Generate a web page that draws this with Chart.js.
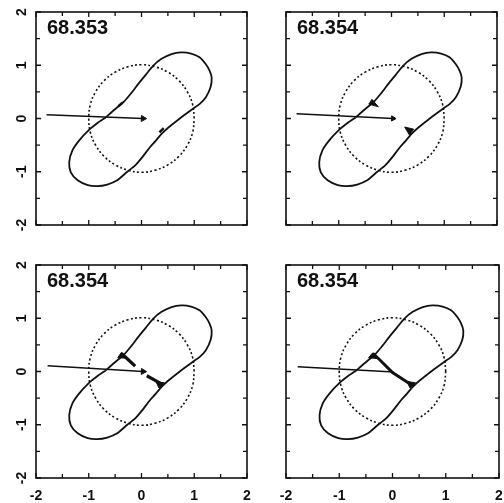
<!DOCTYPE html>
<html>
<head>
<meta charset="utf-8">
<script src="https://cdn.jsdelivr.net/npm/chart.js@4"></script>
<style>
  html, body { margin: 0; padding: 0; background: #fff; }
  #page { position: relative; width: 504px; height: 503px; overflow: hidden; background: #fff; }
  .panel { position: absolute; width: 252px; height: 251px; }
</style>
</head>
<body>
<div id="page">
  <div class="panel" style="left:0;top:0"><canvas id="p0" width="252" height="251"></canvas></div>
  <div class="panel" style="left:250px;top:0"><canvas id="p1" width="252" height="251"></canvas></div>
  <div class="panel" style="left:0;top:252px"><canvas id="p2" width="252" height="251"></canvas></div>
  <div class="panel" style="left:250px;top:252px"><canvas id="p3" width="252" height="251"></canvas></div>
</div>
<script>
const ink = "#111"
const font = "'Liberation Sans', Arial, Helvetica, sans-serif"

// panel captions
const panelLabels = ["68.353", "68.354", "68.354", "68.354"]

// axis ticks
const majorTicks = [-2, -1, 0, 1, 2]
const minorTicks = [-1.5, -0.5, 0.5, 1.5]

// dotted reference circle
const circle = [
  [1.00, 0.00], [0.97, 0.26], [0.87, 0.50], [0.71, 0.71], [0.50, 0.87], [0.26, 0.97],
  [0.00, 1.01], [-0.26, 0.97], [-0.50, 0.87], [-0.71, 0.71], [-0.87, 0.50], [-0.97, 0.26],
  [-1.00, 0.00], [-0.97, -0.26], [-0.87, -0.50], [-0.71, -0.71], [-0.50, -0.87], [-0.26, -0.97],
  [0.00, -1.01], [0.26, -0.97], [0.50, -0.87], [0.71, -0.71], [0.87, -0.50], [0.97, -0.26],
  [1.00, 0.00],
]

// closed boundary curve
const outline = [
  [-0.68, 0.02], [-0.52, 0.16], [-0.34, 0.31], [-0.20, 0.47], [-0.06, 0.65], [0.08, 0.82],
  [0.22, 0.99], [0.38, 1.12], [0.57, 1.21], [0.75, 1.24], [0.94, 1.22], [1.10, 1.15],
  [1.22, 1.02], [1.29, 0.90], [1.33, 0.77], [1.31, 0.59], [1.22, 0.40], [1.10, 0.27],
  [0.97, 0.18], [0.75, 0.02], [0.51, -0.17], [0.38, -0.29], [0.26, -0.43], [0.16, -0.54],
  [0.02, -0.72], [-0.12, -0.88], [-0.27, -1.00], [-0.46, -1.16], [-0.65, -1.24], [-0.84, -1.27],
  [-1.02, -1.25], [-1.21, -1.16], [-1.34, -1.01], [-1.37, -0.82], [-1.31, -0.60], [-1.18, -0.41],
  [-0.99, -0.21], [-0.84, -0.09], [-0.68, 0.02],
]

// incoming arrows, one per panel
const arrow1 = [[-1.80, 0.07], [0.03, 0.00]]
const arrow2 = [[-1.80, 0.09], [0.03, 0.00]]
const arrow3 = [[-1.78, 0.11], [0.03, 0.00]]
const arrow4 = [[-1.78, 0.09], [0.02, -0.01]]

// small features on the boundary
const bumps1 = [[[-0.44, 0.23], [-0.36, 0.30]], [[0.34, -0.26], [0.42, -0.18]]]
const flags2 = [
  [[-0.43, 0.27], [-0.37, 0.36], [-0.25, 0.22], [-0.43, 0.27]],
  [[0.25, -0.16], [0.42, -0.20], [0.34, -0.31], [0.25, -0.16]],
]
const wedges3 = [
  [[-0.38, 0.34], [-0.25, 0.22], [-0.12, 0.10]],
  [[0.10, -0.08], [0.25, -0.16], [0.37, -0.23]],
]
const flags3 = [
  [[-0.45, 0.26], [-0.38, 0.36], [-0.28, 0.25], [-0.45, 0.26]],
  [[0.28, -0.20], [0.43, -0.21], [0.33, -0.31], [0.28, -0.20]],
]
const bridge4 = [[-0.37, 0.34], [-0.25, 0.23], [0.00, -0.02], [0.28, -0.20], [0.41, -0.27]]
const flags4 = [
  [[-0.45, 0.26], [-0.37, 0.35], [-0.26, 0.24], [-0.45, 0.26]],
  [[0.27, -0.19], [0.43, -0.21], [0.33, -0.31], [0.27, -0.19]],
]

const pts = arr => arr.map(([x, y]) => ({ x, y }))

const lineSet = (arr, width, extra = {}) => ({
  data: pts(arr),
  showLine: true,
  borderColor: ink,
  backgroundColor: ink,
  borderWidth: width,
  pointRadius: 0,
  tension: 0,
  fill: false,
  ...extra,
})

const arrowSet = (arr, head) => lineSet(arr, 1.5, {
  pointRadius: [0, head],
  pointStyle: "triangle",
  rotation: 92,
  pointBackgroundColor: ink,
  pointBorderColor: ink,
  pointBorderWidth: 1,
})

const fillSet = arr => lineSet(arr, 1, { fill: "shape" })

const baseSets = arrow => [
  lineSet(circle, 1.6, { borderDash: [2, 2.4], tension: 0.4 }),
  lineSet(outline, 1.8, { tension: 0.25 }),
  arrow,
]

const panels = [
  {
    id: "p0", top: 12, showX: false, showY: true, label: panelLabels[0],
    datasets: [...baseSets(arrowSet(arrow1, 3.5)), ...bumps1.map(b => lineSet(b, 2.4))],
  },
  {
    id: "p1", top: 12, showX: false, showY: false, label: panelLabels[1],
    datasets: [...baseSets(arrowSet(arrow2, 3)), ...flags2.map(fillSet)],
  },
  {
    id: "p2", top: 13, showX: true, showY: true, label: panelLabels[2],
    datasets: [
      ...baseSets(arrowSet(arrow3, 3.5)),
      ...wedges3.map(w => lineSet(w, 3.2)),
      ...flags3.map(fillSet),
    ],
  },
  {
    id: "p3", top: 13, showX: true, showY: false, label: panelLabels[3],
    datasets: [
      ...baseSets(arrowSet(arrow4, 0)),
      lineSet(bridge4, 3),
      ...flags4.map(fillSet),
    ],
  },
]

// box, inward ticks, axis numbers and caption
const framePlugin = {
  id: "frame",
  afterDatasetsDraw(chart, _args, opts) {
    const { ctx, chartArea: a, scales: { x, y } } = chart
    ctx.save()
    ctx.strokeStyle = ink
    ctx.fillStyle = ink
    ctx.setLineDash([])
    ctx.lineWidth = 1.6
    ctx.strokeRect(a.left, a.top, a.right - a.left, a.bottom - a.top)

    ctx.lineWidth = 1.3
    ctx.beginPath()
    const all = [...majorTicks, ...minorTicks]
    all.forEach(v => {
      const len = majorTicks.includes(v) ? 5 : 4
      const px = x.getPixelForValue(v)
      const py = y.getPixelForValue(v)
      ctx.moveTo(px, a.bottom); ctx.lineTo(px, a.bottom - len)
      ctx.moveTo(px, a.top); ctx.lineTo(px, a.top + len)
      ctx.moveTo(a.left, py); ctx.lineTo(a.left + len, py)
      ctx.moveTo(a.right, py); ctx.lineTo(a.right - len, py)
    })
    ctx.stroke()

    ctx.font = `bold 14px ${font}`
    ctx.textAlign = "center"
    ctx.textBaseline = "alphabetic"
    if (opts.showX) {
      majorTicks.forEach(v => {
        ctx.fillText(String(v), x.getPixelForValue(v), a.bottom + 22)
      })
    }
    if (opts.showY) {
      majorTicks.forEach(v => {
        ctx.save()
        ctx.translate(a.left - 10, y.getPixelForValue(v))
        ctx.rotate(-Math.PI / 2)
        ctx.fillText(String(v), 0, 0)
        ctx.restore()
      })
    }

    ctx.font = `bold 20px ${font}`
    ctx.textAlign = "left"
    ctx.fillText(opts.label, a.left + 11, a.top + 22)
    ctx.restore()
  },
}

panels.forEach(p => {
  new Chart(document.getElementById(p.id), {
    type: "scatter",
    data: { datasets: p.datasets },
    options: {
      responsive: false,
      animation: false,
      events: [],
      layout: { padding: { left: 36, top: p.top, right: 3, bottom: 251 - p.top - 213 } },
      scales: {
        x: { type: "linear", min: -2, max: 2, display: false },
        y: { type: "linear", min: -2, max: 2, display: false },
      },
      plugins: {
        legend: { display: false },
        tooltip: { enabled: false },
        frame: { showX: p.showX, showY: p.showY, label: p.label },
      },
    },
    plugins: [framePlugin],
  })
})
</script>
</body>
</html>
